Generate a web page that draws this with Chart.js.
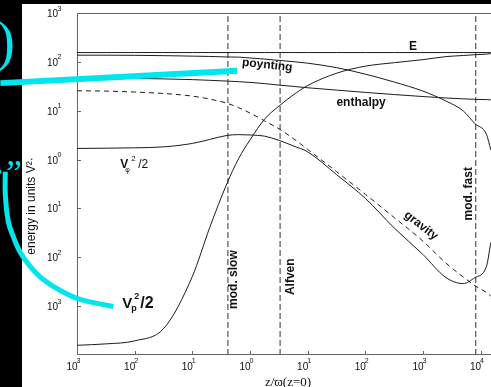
<!DOCTYPE html>
<html>
<head>
<meta charset="utf-8">
<script src="https://cdn.jsdelivr.net/npm/chart.js@4.4.1/dist/chart.umd.min.js"></script>
<style>
  html, body { margin: 0; padding: 0; background: #000; }
  canvas { display: block; }
</style>
</head>
<body>
<canvas id="chart" width="491" height="387"></canvas>
<script>
// sample points along z/varpi(z=0)
const zValues = [1e-3, 3.2e-3, 1e-2, 3.2e-2, 0.1, 0.2, 0.4, 0.63, 1, 1.8, 3.2, 5.6,
  10, 32, 100, 320, 1000, 2500, 5000, 8000, 12600, 15000];

const energyTotal = [155, 155, 155, 155, 155, 155, 155, 155, 155, 155, 155, 155,
  155, 155, 155, 155, 155, 155, 155, 155, 155, 155];
const poynting = [137, 137, 136, 134, 131, 129, 126, 125, 120, 114, 107, 101,
  94, 76, 56, 38.5, 25.2, 15.8, 9.9, 5.4, 3.3, 1.58];
const enthalpy = [47.1, 46.4, 45.8, 44.8, 43.3, 41.9, 40.4, 39.3, 38.0, 35.9, 33.4, 31.5,
  29.5, 26.4, 23.7, 21.4, 19.5, 18.2, 17.5, 17.1, 16.9, 16.7];
const vPoloidal = [1.58e-4, 1.69e-4, 1.95e-4, 3.5e-4, 4.04e-3, 0.0404, 0.327, 1.03, 2.52, 6.78, 12.5, 20.9,
  32.7, 58.7, 81.6, 96.3, 111, 128, 135, 140, 144, 147];
const vPhi = [1.69, 1.71, 1.74, 1.82, 2.14, 2.58, 3.12, 3.24, 3.19, 3.01, 2.47, 1.91,
  1.44, 0.488, 0.161, 0.0394, 0.0114, 3.85e-3, 2.9e-3, 3.85e-3, 6.46e-3, 0.02];
const gravity = [25.6, 25.2, 24.1, 22.5, 19.9, 17.3, 14.2, 11.6, 8.97, 6.17, 4.24, 2.71,
  1.62, 0.561, 0.195, 0.0646, 0.0214, 7.62e-3, 3.95e-3, 2.62e-3, 1.9e-3, 1.61e-3];

// critical surfaces
const markerNames = ["mod. slow", "Alfven", "mod. fast"];
const markerZ = [0.414, 3.33, 8220];

// axis ticks (exponents as printed, minus signs lost)
const xTickValues = [1e-3, 1e-2, 1e-1, 1, 10, 100, 1000, 10000];
const xTickExponents = ["3", "2", "1", "0", "1", "2", "3", "4"];
const yTickValues = [1e-3, 1e-2, 1e-1, 1, 10, 100, 1000];
const yTickExponents = ["3", "2", "1", "0", "1", "2", "3"];

// cyan slide annotations, in data units
const pointerZ = [0.6, 4.69e-5];
const pointerE = [65.5, 36.7];
const arcZ = [4.26e-3, 1.14e-3, 5.14e-4, 2.6e-4, 1.55e-4, 1.04e-4, 7.87e-5, 6.44e-5, 5.71e-5, 5.71e-5];
const arcE = [9.86e-4, 1.37e-3, 2.09e-3, 3.51e-3, 6.46e-3, 0.0125, 0.0264, 0.0536, 0.191, 0.561];

const CYAN = "#00e6ee";
const SANS = "'Liberation Sans', Arial, sans-serif";
const NARROW = "'Liberation Sans Narrow', 'Liberation Sans', Arial, sans-serif";
const SERIF = "'Liberation Serif', 'DejaVu Serif', serif";

function series(values) {
  return values.map((v, i) => ({ x: zValues[i], y: v }));
}

function curve(label, values, extra) {
  return Object.assign({
    label,
    data: series(values),
    borderColor: "#1c1c1c",
    borderWidth: 1,
    pointRadius: 0,
    fill: false,
    cubicInterpolationMode: "monotone",
  }, extra || {});
}

function markerLine(i) {
  return {
    label: markerNames[i],
    data: [{ x: markerZ[i], y: 1e-4 }, { x: markerZ[i], y: 1e3 }],
    borderColor: "#555",
    borderWidth: 1.2,
    borderDash: [6, 3],
    pointRadius: 0,
    fill: false,
  };
}

function annotation(zs, es, width) {
  return {
    label: "annotation",
    data: zs.map((z, i) => ({ x: z, y: es[i] })),
    borderColor: CYAN,
    borderWidth: width,
    pointRadius: 0,
    tension: 0.4,
    fill: false,
    clip: false,
    order: -1,
  };
}

function drawText(ctx, text, x, y, font, angle) {
  ctx.save();
  ctx.translate(x, y);
  ctx.rotate((angle || 0) * Math.PI / 180);
  ctx.font = font;
  ctx.textAlign = "center";
  ctx.textBaseline = "middle";
  ctx.fillText(text, 0, 0);
  ctx.restore();
}

function drawPiece(ctx, text, x, y, font) {
  ctx.font = font;
  ctx.textAlign = "left";
  ctx.textBaseline = "alphabetic";
  ctx.fillText(text, x, y);
}

const backdrop = {
  id: "backdrop",
  beforeDraw(chart) {
    const ctx = chart.ctx;
    ctx.save();
    ctx.fillStyle = "#000";
    ctx.fillRect(0, 0, chart.width, chart.height);
    ctx.fillStyle = "#fff";
    ctx.fillRect(22, 4, chart.width - 22, chart.height - 4);
    ctx.restore();
  },
};

// frame, inward ticks and power-of-ten tick labels
const frame = {
  id: "frame",
  beforeDatasetsDraw(chart) {
    const { ctx, chartArea: a, scales } = chart;
    ctx.save();
    ctx.strokeStyle = "#666";
    ctx.lineWidth = 1;
    ctx.beginPath();
    ctx.moveTo(a.right, a.top + 0.5);
    ctx.lineTo(a.left + 0.5, a.top + 0.5);
    ctx.lineTo(a.left + 0.5, a.bottom - 0.5);
    ctx.lineTo(a.right, a.bottom - 0.5);
    xTickValues.forEach((v) => {
      const x = Math.round(scales.x.getPixelForValue(v)) + 0.5;
      ctx.moveTo(x, a.bottom);
      ctx.lineTo(x, a.bottom - 4);
    });
    yTickValues.forEach((v) => {
      const y = Math.round(scales.y.getPixelForValue(v)) + 0.5;
      ctx.moveTo(a.left, y);
      ctx.lineTo(a.left + 4, y);
    });
    ctx.stroke();

    ctx.fillStyle = "#111";
    ctx.textBaseline = "alphabetic";
    const base = "10px " + NARROW;
    const sup = "7px " + NARROW;
    xTickValues.forEach((v, i) => {
      const x = scales.x.getPixelForValue(v);
      ctx.font = base;
      ctx.textAlign = "center";
      ctx.fillText("10", x - 5, a.bottom + 15);
      ctx.font = sup;
      ctx.textAlign = "left";
      ctx.fillText(xTickExponents[i], x - 0.5, a.bottom + 8);
    });
    yTickValues.forEach((v, i) => {
      const y = scales.y.getPixelForValue(v);
      ctx.font = sup;
      ctx.textAlign = "right";
      ctx.fillText(yTickExponents[i], a.left - 15.5, y - 2.5);
      ctx.font = base;
      ctx.fillText("10", a.left - 19, y + 4);
    });
    ctx.restore();
  },
};

const labels = {
  id: "labels",
  afterDatasetsDraw(chart) {
    const { ctx, chartArea: a, scales } = chart;
    const px = (z) => scales.x.getPixelForValue(z);
    const py = (v) => scales.y.getPixelForValue(v);
    const bold = "bold 12px " + SANS;
    ctx.save();
    ctx.fillStyle = "#111";

    drawText(ctx, "E", px(675), py(200), bold);
    drawText(ctx, "poynting", px(1.99), py(85.7), bold, 6);
    drawText(ctx, "enthalpy", px(84.5), py(14.4), bold);
    drawText(ctx, "gravity", px(927), py(0.0444), bold, 38);

    drawText(ctx, markerNames[0], px(markerZ[0]) + 6, py(3.5e-3), bold, -90);
    drawText(ctx, markerNames[1], px(markerZ[1]) + 11, py(4.0e-3), bold, -90);
    drawText(ctx, markerNames[2], px(markerZ[2]) - 7, py(0.2), bold, -90);

    // V_phi^2/2
    let bx = px(5.6e-3), by = py(0.678);
    drawPiece(ctx, "V", bx, by, "bold 12px " + SANS);
    drawPiece(ctx, "φ", bx + 5, by + 4, "7px " + SANS);
    drawPiece(ctx, "2", bx + 11, by - 7, "8px " + SANS);
    drawPiece(ctx, "/2", bx + 18, by, "12px " + SANS);

    // V_p^2/2
    bx = px(6.1e-3); by = py(9e-4);
    drawPiece(ctx, "V", bx, by, "bold 15px " + SANS);
    drawPiece(ctx, "p", bx + 9, by + 3, "bold 9px " + SANS);
    drawPiece(ctx, "2", bx + 12, by - 9, "bold 9px " + SANS);
    drawPiece(ctx, "/2", bx + 18, by, "bold 16px " + SANS);

    // axis titles
    drawText(ctx, "energy in units V²·", 32, 206, "12px " + SANS, -90);
    drawText(ctx, "z/ϖ(z=0)", (a.left + a.right) / 2 + 4, a.bottom + 28, "13px " + SERIF);

    // cyan glyphs of the slide overlay
    ctx.fillStyle = CYAN;
    ctx.font = "56px " + SERIF;
    ctx.textAlign = "right";
    ctx.textBaseline = "alphabetic";
    ctx.fillText(")", 15, 60);
    ctx.textAlign = "left";
    ctx.font = "italic 36px " + SERIF;
    ctx.fillText("e”", -14, 185);
    ctx.restore();
  },
};

function drawChart() {
  new Chart(document.getElementById("chart"), {
    type: "line",
    data: {
      datasets: [
        annotation(pointerZ, pointerE, 6),
        annotation(arcZ, arcE, 5),
        curve("E", energyTotal),
        curve("poynting", poynting),
        curve("enthalpy", enthalpy),
        curve("Vp^2/2", vPoloidal),
        curve("Vphi^2/2", vPhi),
        curve("gravity", gravity, { borderDash: [5, 4] }),
        markerLine(0),
        markerLine(1),
        markerLine(2),
      ],
    },
    options: {
      responsive: false,
      animation: false,
      events: [],
      devicePixelRatio: 1,
      layout: { padding: { top: 13, right: 0, bottom: 0, left: 0 } },
      plugins: { legend: { display: false }, tooltip: { enabled: false } },
      scales: {
        x: {
          type: "logarithmic",
          min: 1e-3,
          max: 15136,
          grid: { display: false, drawTicks: false },
          border: { display: false },
          afterBuildTicks: (s) => { s.ticks = xTickValues.map((v) => ({ value: v })); },
          afterFit: (s) => { s.height = 32; },
          ticks: { display: false },
        },
        y: {
          type: "logarithmic",
          min: 1e-4,
          max: 1e3,
          grid: { display: false, drawTicks: false },
          border: { display: false },
          afterBuildTicks: (s) => { s.ticks = yTickValues.map((v) => ({ value: v })); },
          afterFit: (s) => { s.width = 77; },
          ticks: { display: false },
        },
      },
    },
    plugins: [backdrop, frame, labels],
  });
}

window.addEventListener("load", () => {
  drawChart();
});
</script>
</body>
</html>
